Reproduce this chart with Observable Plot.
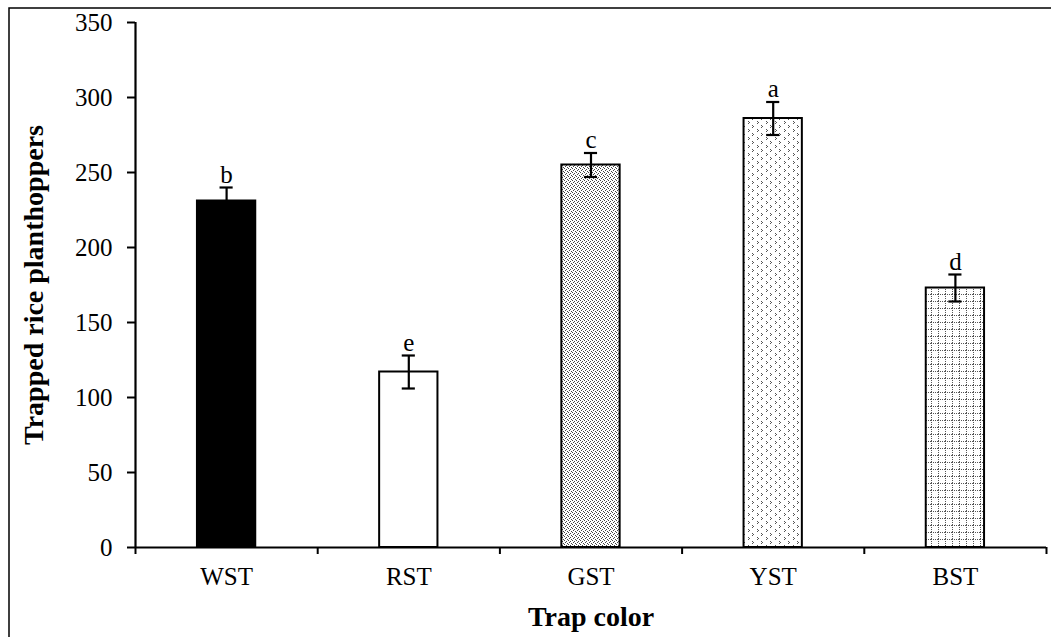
<!DOCTYPE html>
<html>
<head>
<meta charset="utf-8">
<script src="https://cdn.jsdelivr.net/npm/d3@7"></script>
<script src="https://cdn.jsdelivr.net/npm/@observablehq/plot@0.6"></script>
<style>
  body { margin: 0; background: white; }
  #chart svg { display: block; }
</style>
</head>
<body>
<div id="chart"></div>
<script>
// ---- data ----
const categories = ["WST", "RST", "GST", "YST", "BST"];
const means = [231, 117, 255, 286, 173];
const errors = [9, 11, 8, 11, 9];
const letters = ["b", "e", "c", "a", "d"];
const yTicks = [0, 50, 100, 150, 200, 250, 300, 350];

// ---- styles ----
const fillFor = {
  WST: "black",
  RST: "white",
  GST: "url(#pat-gst)",
  YST: "url(#pat-yst)",
  BST: "url(#pat-bst)"
};
const font = "'Liberation Serif', 'Times New Roman', serif";
const barHalf = 0.16;
const capHalf = 0.036;

const data = categories.map((c, i) => ({
  i, cat: c, mean: means[i], err: errors[i], letter: letters[i], fill: fillFor[c]
}));

const chart = Plot.plot({
  width: 1051,
  height: 637,
  marginLeft: 135,
  marginRight: 5,
  marginTop: 22,
  marginBottom: 90,
  style: { fontFamily: font, fontSize: "25px", color: "black", background: "white" },
  x: { domain: [-0.5, categories.length - 0.5] },
  y: { domain: [0, 350] },
  color: { type: "identity" },
  marks: [
    Plot.rectY(data, {
      x1: d => d.i - barHalf, x2: d => d.i + barHalf, y1: 0, y2: "mean",
      fill: "fill", stroke: "black", strokeWidth: 2
    }),
    Plot.ruleX(data, { x: "i", y1: d => d.mean - d.err, y2: d => d.mean + d.err, stroke: "black", strokeWidth: 2.2 }),
    Plot.ruleY(data, { x1: d => d.i - capHalf, x2: d => d.i + capHalf, y: d => d.mean + d.err, stroke: "black", strokeWidth: 2.2 }),
    Plot.ruleY(data, { x1: d => d.i - capHalf, x2: d => d.i + capHalf, y: d => d.mean - d.err, stroke: "black", strokeWidth: 2.2 }),
    Plot.text(data, {
      x: "i", y: d => d.mean + d.err, text: "letter",
      lineAnchor: "bottom", dy: -5, fontSize: 25, fill: "black"
    }),
    // axes
    Plot.axisY({ ticks: yTicks, tickSize: 8, tickPadding: 15, tickWidth: 2, strokeWidth: 2, label: null, fontSize: 25 }),
    Plot.axisX({ ticks: d3.range(-0.5, categories.length, 1), tickSize: 7, tickFormat: () => "", label: null, strokeWidth: 2 }),
    Plot.axisX({ ticks: d3.range(categories.length), tickSize: 0, tickPadding: 20, tickFormat: i => categories[i], label: null, fontSize: 25 }),
    Plot.ruleY([0], { stroke: "black", strokeWidth: 2.2 }),
    Plot.ruleX([-0.5], { stroke: "black", strokeWidth: 2.2 }),
    // axis titles
    Plot.text(["Trapped rice planthoppers"], {
      frameAnchor: "left", rotate: -90, dx: -101, textAnchor: "middle", text: d => d,
      fontSize: 28, fontWeight: "bold", fill: "black"
    }),
    Plot.text(["Trap color"], {
      frameAnchor: "bottom", dy: 78, lineAnchor: "bottom", textAnchor: "middle", text: d => d,
      fontSize: 28, fontWeight: "bold", fill: "black"
    })
  ]
});

// patterns + outer border
const svg = d3.select(chart);
const defs = svg.insert("defs", ":first-child");

// GST: fine dense dots
const pg = defs.append("pattern").attr("id", "pat-gst").attr("patternUnits", "userSpaceOnUse")
  .attr("width", 4).attr("height", 4);
pg.append("rect").attr("width", 4).attr("height", 4).attr("fill", "white");
[[0,0],[2,1],[1,2],[3,3]].forEach(([x, y]) =>
  pg.append("rect").attr("x", x).attr("y", y).attr("width", 1).attr("height", 1).attr("fill", "#444"));

// YST: sparser small marks
const py = defs.append("pattern").attr("id", "pat-yst").attr("patternUnits", "userSpaceOnUse")
  .attr("width", 9).attr("height", 8);
py.append("rect").attr("width", 9).attr("height", 8).attr("fill", "white");
[[1,1],[2,2],[1,3],[5,5],[6,6],[5,7]].forEach(([x, y]) =>
  py.append("rect").attr("x", x).attr("y", y).attr("width", 1).attr("height", 1).attr("fill", "#555"));

// BST: dotted grid
const pb = defs.append("pattern").attr("id", "pat-bst").attr("patternUnits", "userSpaceOnUse")
  .attr("width", 7).attr("height", 7);
pb.append("rect").attr("width", 7).attr("height", 7).attr("fill", "white");
[[0,0],[2,0],[4,0],[6,0],[0,2],[0,4],[0,6]].forEach(([x, y]) =>
  pb.append("rect").attr("x", x).attr("y", y).attr("width", 1).attr("height", 1).attr("fill", "#555"));

svg.append("rect").attr("x", 9).attr("y", 8).attr("width", 1100).attr("height", 700)
  .attr("fill", "none").attr("stroke", "black").attr("stroke-width", 1.5);

document.getElementById("chart").appendChild(chart);
</script>
</body>
</html>
